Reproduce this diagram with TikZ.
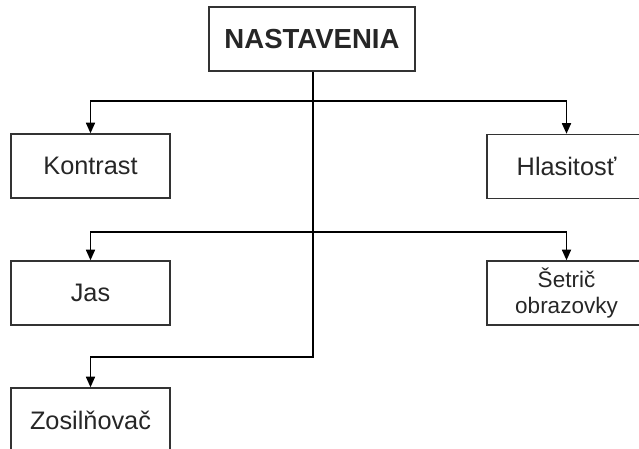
\documentclass[tikz,border=0pt]{standalone}
\usepackage{fontspec}
\setmainfont{Liberation Sans}
\usetikzlibrary{arrows.meta}
\usetikzlibrary{positioning}

\begin{document}
\begin{tikzpicture}[x=0.025cm,y=-0.025cm,>={Triangle[length=7.5pt,width=6.5pt]},
  box/.style={draw=black!80,line width=1.1pt,rectangle,minimum width=3.975cm,minimum height=1.6cm,inner sep=0pt,text=black!85,font=\fontsize{18}{22}\selectfont},
  link/.style={->,line width=0.9pt}]

\useasboundingbox (0,0) rectangle (639,448);
\clip (0,0) rectangle (639,448);

% main box
\node [box,minimum width=5.15cm,font=\fontsize{19.6}{22}\selectfont\bfseries] (nast) at (312,39) {NASTAVENIA};

% items
\node [box] (kontrast) at (90.5,166) {Kontrast};
\node [box] (hlas) at (566.5,166.5) {Hlasitosť};
\node [box] (jas) at (90.5,293) {Jas};
\node [box,align=center,font=\fontsize{16}{17.8}\selectfont] (setric) at (566.5,293) {Šetrič\\obrazovky};
\node [box] (zosil) at (90.5,420) {Zosilňovač};

% branch levels
\coordinate (l1) at (313,101);
\coordinate (l2) at (313,232);
\coordinate (l3) at (313,357);

\draw [link] (nast.south -| l1) -- (l1) -| (kontrast.north);
\draw [link] (l1) -| (hlas.north);
\draw [link] (l1) -- (l2) -| (jas.north);
\draw [link] (l2) -| (setric.north);
\draw [link] (l2) -- (l3) -| (zosil.north);

\end{tikzpicture}
\end{document}
